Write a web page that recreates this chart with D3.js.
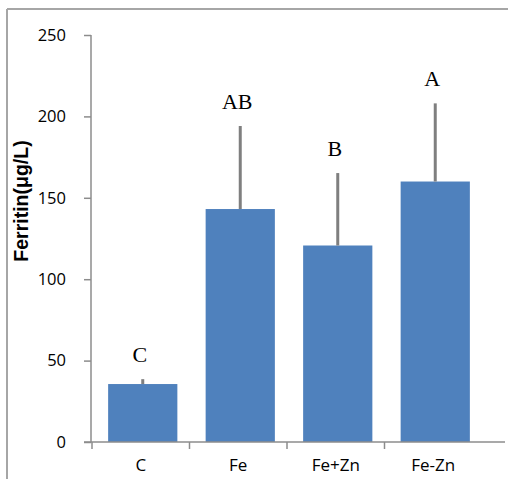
<!DOCTYPE html>
<html>
<head>
<meta charset="utf-8">
<script src="https://cdn.jsdelivr.net/npm/d3@7"></script>
<style>
  html, body { margin: 0; padding: 0; background: #fff; }
  svg { display: block; }
</style>
</head>
<body>
<svg id="chart" width="508" height="479"></svg>
<script>
const categories = ["C", "Fe", "Fe+Zn", "Fe-Zn"];
const means = [35.6, 143.1, 120.7, 160];
const sds = [3, 51, 44.5, 48];
const letters = ["C", "AB", "B", "A"];
const yTicks = [0, 50, 100, 150, 200, 250];
const yTitle = "Ferritin(\u03bcg/L)";

const svg = d3.select("#chart");
const W = 508, H = 479;
const axisColor = "#8c8c8c";

// outer frame (partial, as cropped in reference)
svg.append("line").attr("x1", 7).attr("x2", 7).attr("y1", 9).attr("y2", H)
  .attr("stroke", "#a6a6a6").attr("stroke-width", 2);
svg.append("line").attr("x1", 7).attr("x2", W).attr("y1", 9).attr("y2", 9)
  .attr("stroke", "#a6a6a6").attr("stroke-width", 2);

const y = d3.scaleLinear().domain([0, 250]).range([442, 35]);
const x = d3.scaleBand().domain(categories).range([94, 484]).paddingInner(0.29).paddingOuter(0.145);

// y axis
const yAxis = d3.axisLeft(y).tickValues(yTicks).tickSize(7).tickPadding(18);
const gy = svg.append("g").attr("transform", "translate(91,0)").call(yAxis);
gy.select(".domain").attr("stroke", axisColor).attr("stroke-width", 1.5).attr("d", "M0,442V35");
gy.selectAll(".tick line").attr("stroke", axisColor).attr("stroke-width", 1.5);
gy.selectAll(".tick text").attr("font-family", "'Open Sans', 'Liberation Sans', sans-serif")
  .attr("font-size", 16.5).attr("fill", "#000");

// bars
svg.append("g").selectAll("rect").data(categories).join("rect")
  .attr("x", d => x(d))
  .attr("width", x.bandwidth())
  .attr("y", (d, i) => y(means[i]))
  .attr("height", (d, i) => y(0) - y(means[i]))
  .attr("fill", "#4f81bd");

// error bars
svg.append("g").selectAll("line").data(categories).join("line")
  .attr("x1", d => x(d) + x.bandwidth() / 2)
  .attr("x2", d => x(d) + x.bandwidth() / 2)
  .attr("y1", (d, i) => y(means[i]))
  .attr("y2", (d, i) => y(means[i] + sds[i]))
  .attr("stroke", "#7f7f7f").attr("stroke-width", 3);

// significance letters
svg.append("g").selectAll("text").data(categories).join("text")
  .attr("x", d => x(d) + x.bandwidth() / 2 - 3)
  .attr("y", (d, i) => y(means[i] + sds[i]) - 17)
  .attr("text-anchor", "middle")
  .attr("font-family", "'Liberation Serif', 'DejaVu Serif', serif")
  .attr("font-size", 22)
  .attr("fill", "#000")
  .text((d, i) => letters[i]);

// x axis
const xTickPos = d3.range(categories.length).map(i => x.range()[0] - 2 + i * x.step());
svg.append("line").attr("x1", 84).attr("x2", 505).attr("y1", 442).attr("y2", 442)
  .attr("stroke", axisColor).attr("stroke-width", 1.5);
svg.append("g").selectAll("line").data(xTickPos).join("line")
  .attr("x1", d => d).attr("x2", d => d).attr("y1", 442).attr("y2", 449)
  .attr("stroke", axisColor).attr("stroke-width", 1.5);
svg.append("g").selectAll("text").data(categories).join("text")
  .attr("x", d => x(d) + x.bandwidth() / 2 - 2)
  .attr("y", 471)
  .attr("text-anchor", "middle")
  .attr("font-family", "'Open Sans', 'Liberation Sans', sans-serif")
  .attr("font-size", 17)
  .attr("fill", "#000")
  .text(d => d);

// y title
svg.append("text")
  .attr("transform", "translate(28,201) rotate(-90)")
  .attr("text-anchor", "middle")
  .attr("font-family", "'Liberation Sans', Arial, sans-serif")
  .attr("font-weight", "bold")
  .attr("font-size", 19.5)
  .attr("fill", "#000")
  .text(yTitle);
</script>
</body>
</html>
